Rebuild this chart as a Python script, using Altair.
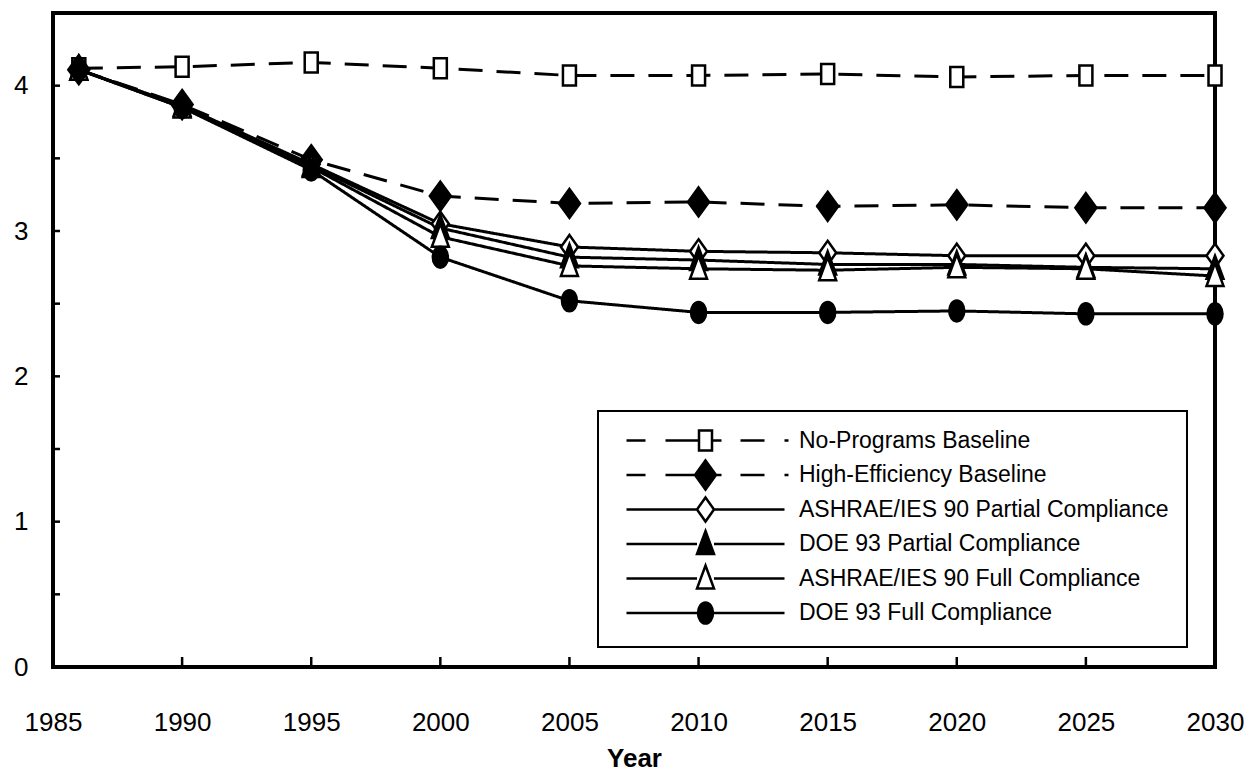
import altair as alt
import pandas as pd

FONT = "Liberation Sans"

# ---------------- data ----------------
years = [1986, 1990, 1995, 2000, 2005, 2010, 2015, 2020, 2025, 2030]
series_names = [
    "No-Programs Baseline",
    "High-Efficiency Baseline",
    "ASHRAE/IES 90 Partial Compliance",
    "DOE 93 Partial Compliance",
    "ASHRAE/IES 90 Full Compliance",
    "DOE 93 Full Compliance",
]
no_programs = [4.12, 4.13, 4.16, 4.12, 4.07, 4.07, 4.08, 4.06, 4.07, 4.07]
high_eff = [4.11, 3.87, 3.49, 3.24, 3.19, 3.20, 3.17, 3.18, 3.16, 3.16]
ashrae_partial = [4.11, 3.86, 3.46, 3.05, 2.89, 2.86, 2.85, 2.83, 2.83, 2.83]
doe_partial = [4.11, 3.86, 3.45, 3.02, 2.82, 2.80, 2.77, 2.77, 2.75, 2.74]
ashrae_full = [4.11, 3.85, 3.44, 2.96, 2.76, 2.74, 2.73, 2.75, 2.74, 2.69]
doe_full = [4.11, 3.85, 3.42, 2.82, 2.52, 2.44, 2.44, 2.45, 2.43, 2.43]

x_tick_labels = [1985, 1990, 1995, 2000, 2005, 2010, 2015, 2020, 2025, 2030]
x_inner_ticks = [1990, 1995, 2000, 2005, 2010, 2015, 2020, 2025]
y_tick_labels = [0, 1, 2, 3, 4]
y_inner_ticks = [0.5, 1.0, 1.5, 2.0, 2.5, 3.0, 3.5, 4.0]

all_values = [no_programs, high_eff, ashrae_partial, doe_partial, ashrae_full, doe_full]
rows = []
for name, vals in zip(series_names, all_values):
    for yr, v in zip(years, vals):
        rows.append({"year": yr, "value": v, "series": name})
df = pd.DataFrame(rows)
xt_df = pd.DataFrame({"year": x_inner_ticks})
yt_df = pd.DataFrame({"value": y_inner_ticks})

# ---------------- styles ----------------
W, H = 1162, 654

m_square = "M-0.65,-1L0.65,-1L0.65,1L-0.65,1Z"
m_diam_f = "M0,-1.45L1.05,0L0,1.45L-1.05,0Z"
m_diam_o = "M0,-1.2L0.85,0L0,1.2L-0.85,0Z"
m_tri = "M0,-1.3L0.85,1L-0.85,1Z"
m_circ = "M-0.75,0A0.75,1.05 0 1,0 0.75,0A0.75,1.05 0 1,0 -0.75,0Z"
markers = [m_square, m_diam_f, m_diam_o, m_tri, m_tri, m_circ]
half_w = [0.65, 1.05, 0.85, 0.85, 0.85, 0.75]
dashed = [True, True, False, False, False, False]

legend_paths = []
for mk, a, d in zip(markers, half_w, dashed):
    if d:
        ln = f"M-7.9,0L-6,0M-4,0L-{a},0M{a},0L1.6,0M3.5,0L5.9,0M7.9,0L8.3,0"
    else:
        ln = f"M-7.9,0L-{a},0M{a},0L7.9,0"
    legend_paths.append(ln + mk)

fills = ["white", "black", "white", "black", "white", "black"]
strokes = ["black"] * 6
dashes = [[24, 14], [24, 14], [1, 0], [1, 0], [1, 0], [1, 0]]

xscale = alt.Scale(domain=[1985, 2030], nice=False, zero=False)
yscale = alt.Scale(domain=[0, 4.5], nice=False, zero=True)

x_axis = alt.Axis(
    values=x_tick_labels, format="d", title="Year", titleFontSize=26,
    titleFontWeight="bold", titlePadding=10, labelFontSize=26, labelPadding=42,
    ticks=False, tickSize=0, domain=False, grid=False, labelFlush=False,
    labelOverlap=False, labelColor="black", titleColor="black")
y_axis = alt.Axis(
    values=y_tick_labels, format="d", title=None, labelFontSize=26,
    labelPadding=25, ticks=False, tickSize=0, domain=False, grid=False,
    labelFlush=False, labelOverlap=False, labelColor="black")

X = alt.X("year:Q", scale=xscale, axis=x_axis)
Y = alt.Y("value:Q", scale=yscale, axis=y_axis)

lines = alt.Chart(df).mark_line(color="black", strokeWidth=3).encode(
    x=X, y=Y,
    strokeDash=alt.StrokeDash("series:N", scale=alt.Scale(domain=series_names, range=dashes), legend=None),
    detail="series:N",
)

points = alt.Chart(df).mark_point(size=400, opacity=1, stroke="black", strokeWidth=2.5, filled=False).encode(
    x=X, y=Y,
    shape=alt.Shape("series:N", scale=alt.Scale(domain=series_names, range=markers), legend=None),
    fill=alt.Fill("series:N", scale=alt.Scale(domain=series_names, range=fills), legend=None),
)

leg = alt.Legend(title=None, orient="none", legendX=545, legendY=398,
                 symbolStrokeWidth=2.5)
legend_layer = alt.Chart(df).transform_filter("false").mark_point(
    size=400, opacity=1, strokeWidth=2.5, filled=False).encode(
    x=X, y=Y,
    shape=alt.Shape("series:N", scale=alt.Scale(domain=series_names, range=legend_paths), legend=leg),
    fill=alt.Fill("series:N", scale=alt.Scale(domain=series_names, range=fills), legend=leg),
    stroke=alt.Stroke("series:N", scale=alt.Scale(domain=series_names, range=strokes), legend=leg),
)

xticks = alt.Chart(xt_df).mark_rule(color="black", strokeWidth=2.5).encode(
    x=X, y=alt.value(H), y2=alt.value(H - 10),
)
yticks = alt.Chart(yt_df).mark_rule(color="black", strokeWidth=2.5).encode(
    y=Y, x=alt.value(0), x2=alt.value(7),
)

chart = alt.layer(lines, points, legend_layer, xticks, yticks).resolve_scale(
    shape="independent", fill="independent", stroke="independent"
).properties(
    width=W, height=H,
    padding={"left": 5, "top": 5, "right": 0, "bottom": 0},
).configure(font=FONT).configure_view(
    stroke="black", strokeWidth=4
).configure_legend(
    labelFontSize=23, labelFont=FONT, labelColor="black", padding=18,
    strokeColor="black", strokeWidth=2, fillColor="white", symbolSize=400,
    symbolStrokeWidth=2.5, symbolOffset=78, labelOffset=82, rowPadding=-4.5,
    gridAlign="all", labelLimit=0,
)

chart.save("out.html", embed_options={"renderer": "svg", "actions": False})
